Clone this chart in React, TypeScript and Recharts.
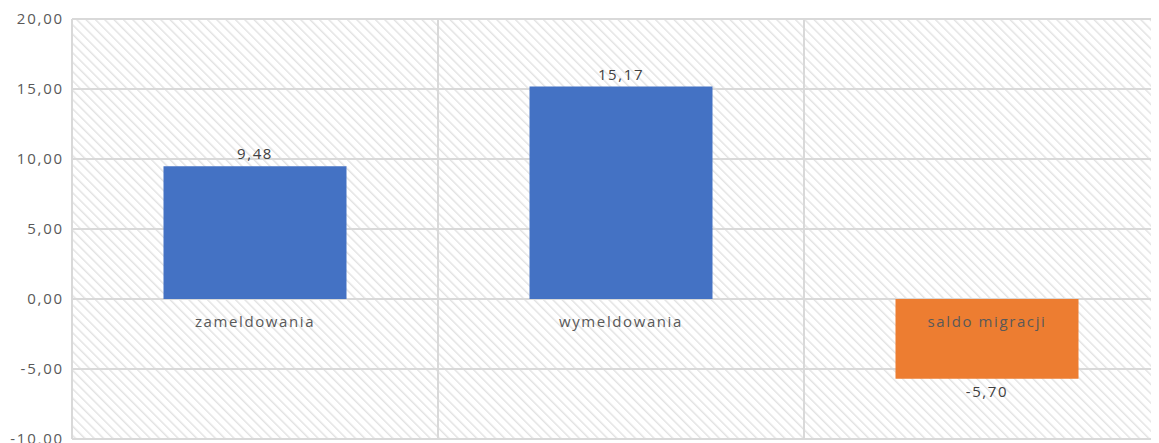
import React from 'react'
import { BarChart, Bar, XAxis, YAxis, CartesianGrid, Cell, LabelList } from 'recharts'

const categories = ['zameldowania', 'wymeldowania', 'saldo migracji']
const values = [9.48, 15.17, -5.7]
const barColors = ['#4472C4', '#4472C4', '#ED7D31']
const yTicks = [-10, -5, 0, 5, 10, 15, 20]

const data = categories.map((name, i) => ({ name, value: values[i] }))

const fmt = (v: number) => v.toFixed(2).replace('.', ',')
const FONT = '"Open Sans", "DejaVu Sans", sans-serif'

const ValueLabel = (props: any) => {
  const { x, y, width, height, value } = props
  const top = Math.min(y, y + height)
  const bottom = Math.max(y, y + height)
  const cx = x + width / 2
  const ty = value >= 0 ? top - 13 : bottom + 12
  return (
    <text x={cx} y={ty} textAnchor="middle" dominantBaseline="central" fill="#404040" fontSize={15} letterSpacing={1.6} fontFamily={FONT}>
      {fmt(value)}
    </text>
  )
}

const CategoryLabel = (props: any) => {
  const { x, y, width, height, index } = props
  const v = values[index]
  const zeroY = v >= 0 ? Math.max(y, y + height) : Math.min(y, y + height)
  return (
    <text x={x + width / 2} y={zeroY + 22} textAnchor="middle" dominantBaseline="central" fill="#595959" fontSize={15} letterSpacing={1.6} fontFamily={FONT}>
      {categories[index]}
    </text>
  )
}

const gridX = ({ offset }: any) => [0, 1, 2, 3].map((i) => offset.left + (i * offset.width) / 3)

export default function App() {
  return (
    <div style={{ width: 1151, height: 435, overflow: 'hidden' }}>
      <BarChart width={1170} height={440} data={data} margin={{ top: 11, right: 8, bottom: 9, left: 0 }} barCategoryGap="25%">
        <defs>
          <pattern id="hatch" patternUnits="userSpaceOnUse" width={6.6} height={6.6} patternTransform="rotate(-45)">
            <line x1={0.8} y1={0} x2={0.8} y2={6.6} stroke="#d9d9d9" strokeWidth={1.1} />
          </pattern>
        </defs>
        <CartesianGrid stroke="#d9d9d9" strokeWidth={2} fill="url(#hatch)" fillOpacity={1} verticalCoordinatesGenerator={gridX} />
        <XAxis dataKey="name" hide />
        <YAxis
          domain={[-10, 20]}
          ticks={yTicks}
          width={64}
          axisLine={false}
          tickLine={false}
          tickSize={0}
          tickMargin={8}
          tickFormatter={fmt}
          tick={{ fill: '#595959', fontSize: 15, fontFamily: FONT, letterSpacing: 1.8 }}
          interval={0}
        />
        <Bar dataKey="value" isAnimationActive={false}>
          {data.map((d, i) => (
            <Cell key={d.name} fill={barColors[i]} />
          ))}
          <LabelList dataKey="value" content={ValueLabel} />
          <LabelList dataKey="name" content={CategoryLabel} />
        </Bar>
      </BarChart>
    </div>
  )
}
